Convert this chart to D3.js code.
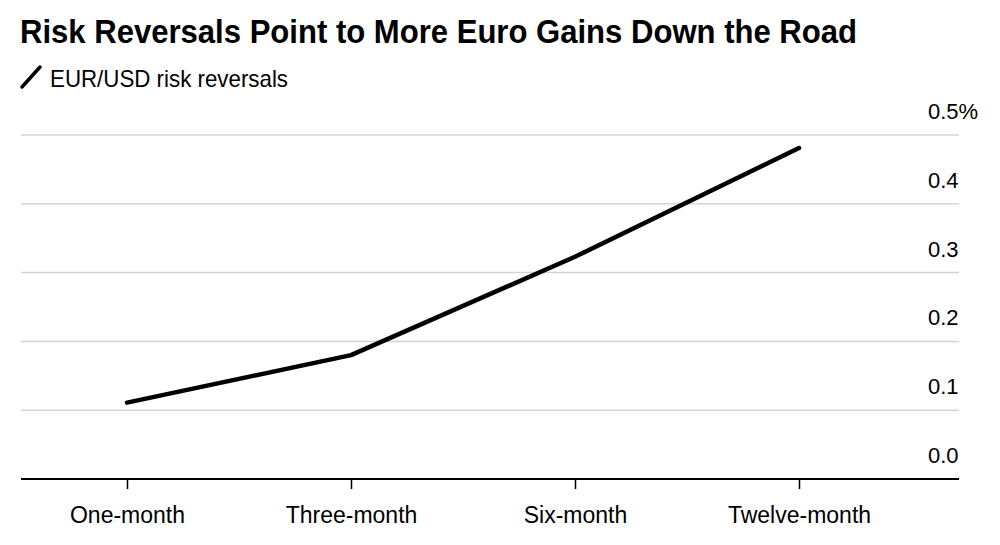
<!DOCTYPE html>
<html>
<head>
<meta charset="utf-8">
<script src="https://cdn.jsdelivr.net/npm/d3@7"></script>
<style>
  body { margin: 0; background: #fff; }
  svg { display: block; font-family: "Liberation Sans", Arial, sans-serif; }
</style>
</head>
<body>
<div id="chart"></div>
<script>
const tenors = ['One-month', 'Three-month', 'Six-month', 'Twelve-month'];
const riskReversals = [0.111, 0.180, 0.323, 0.481];
const yTicks = [0, 0.1, 0.2, 0.3, 0.4, 0.5];

const width = 1000, height = 545;
const plotLeft = 21, plotRight = 959, plotTop = 135, plotBottom = 479;

const svg = d3.select('#chart').append('svg')
  .attr('width', width)
  .attr('height', height);

const x = d3.scalePoint().domain(tenors).range([127, 799]);
const y = d3.scaleLinear().domain([0, 0.5]).range([plotBottom, plotTop]);

// title
svg.append('text')
  .attr('x', 20).attr('y', 43)
  .attr('font-size', 33).attr('font-weight', 'bold')
  .attr('textLength', 837).attr('lengthAdjust', 'spacingAndGlyphs')
  .attr('fill', '#000')
  .text('Risk Reversals Point to More Euro Gains Down the Road');

// legend
svg.append('line')
  .attr('x1', 22).attr('y1', 87).attr('x2', 40).attr('y2', 67)
  .attr('stroke', '#000').attr('stroke-width', 3.5).attr('stroke-linecap', 'round');
svg.append('text')
  .attr('x', 50).attr('y', 87)
  .attr('font-size', 24)
  .attr('textLength', 238).attr('lengthAdjust', 'spacingAndGlyphs')
  .text('EUR/USD risk reversals');

// gridlines
svg.append('g').selectAll('line')
  .data(yTicks.filter(d => d > 0))
  .enter().append('line')
  .attr('x1', plotLeft).attr('x2', plotRight)
  .attr('y1', d => y(d)).attr('y2', d => y(d))
  .attr('stroke', '#d4d4d4').attr('stroke-width', 1.5);

// y labels
svg.append('g').selectAll('text')
  .data(yTicks)
  .enter().append('text')
  .attr('x', 928)
  .attr('y', d => y(d) - 16)
  .attr('font-size', 22)
  .text(d => d === 0.5 ? '0.5%' : d.toFixed(1));

// baseline + ticks
const xAxis = d3.axisBottom(x).tickSize(10).tickPadding(12).tickSizeOuter(0);
const gx = svg.append('g')
  .attr('transform', `translate(0,${plotBottom})`)
  .call(xAxis);
gx.select('.domain').remove();
gx.insert('line', ':first-child')
  .attr('x1', plotLeft).attr('x2', plotRight)
  .attr('stroke', '#000').attr('stroke-width', 2);
gx.selectAll('.tick line').attr('stroke', '#000').attr('stroke-width', 1.5);
gx.selectAll('.tick text')
  .attr('font-size', 23)
  .attr('font-family', '"Liberation Sans", Arial, sans-serif')
  .attr('fill', '#000')
  .attr('dy', null)
  .attr('y', 44);

// series
const line = d3.line()
  .x((d, i) => x(tenors[i]))
  .y(d => y(d));

svg.append('path')
  .datum(riskReversals)
  .attr('d', line)
  .attr('fill', 'none')
  .attr('stroke', '#000')
  .attr('stroke-width', 4.5)
  .attr('stroke-linecap', 'round')
  .attr('stroke-linejoin', 'round');
</script>
</body>
</html>
